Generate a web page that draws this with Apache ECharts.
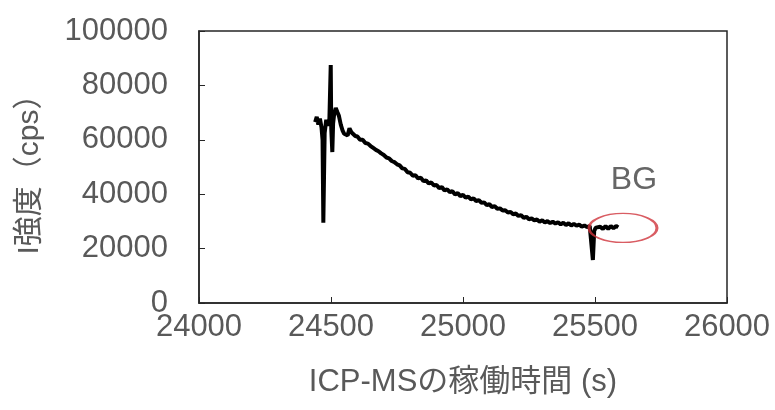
<!DOCTYPE html>
<html>
<head>
<meta charset="utf-8">
<script src="https://cdn.jsdelivr.net/npm/echarts@6/dist/echarts.min.js"></script>
<style>
  html, body { margin: 0; padding: 0; background: #fff; }
  #chart { width: 775px; height: 410px; }
</style>
</head>
<body>
<div id="chart"></div>
<script>
// 稼働時間 (s) と 強度 (cps)
const timeSec = [
  24440, 24446, 24452, 24458, 24464, 24468, 24471, 24476, 24482, 24488, 24494, 24499, 24501, 24505, 24508, 24512,
  24518, 24524, 24530, 24537, 24544, 24550, 24557, 24563, 24570, 24577, 24584, 24592, 24600, 24610, 24620, 24630,
  24640, 24650, 24660, 24670, 24680, 24690, 24700, 24710, 24720, 24730, 24740, 24750, 24760, 24770, 24780, 24790,
  24800, 24810, 24820, 24830, 24840, 24850, 24860, 24870, 24880, 24890, 24900, 24910, 24920, 24930, 24940, 24950,
  24960, 24970, 24980, 24990, 25000, 25010, 25020, 25030, 25040, 25050, 25060, 25070, 25080, 25090, 25100, 25110,
  25120, 25130, 25140, 25150, 25160, 25170, 25180, 25190, 25200, 25210, 25220, 25230, 25240, 25250, 25260, 25270,
  25280, 25290, 25300, 25310, 25320, 25330, 25340, 25350, 25360, 25370, 25380, 25390, 25400, 25410, 25420, 25430,
  25440, 25450, 25460, 25470, 25480, 25487, 25492, 25497, 25503, 25510, 25520, 25530, 25540, 25550, 25560, 25570,
  25580, 25588
];
const intensity = [
  66500, 68400, 65600, 67800, 64600, 60000, 29500, 62500, 67400, 65200, 67800, 87500, 64000, 55500, 66000, 69500,
  71700, 70200, 68800, 65600, 63400, 62200, 62000, 61600, 64200, 62800, 62200, 61400, 61200, 60000, 60000, 58800,
  58600, 57700, 57000, 56300, 55800, 55000, 54400, 53500, 53200, 52200, 51800, 51000, 50600, 49500, 49300, 48100,
  47900, 46800, 47000, 45800, 46100, 44800, 45100, 44000, 44300, 43200, 43400, 42200, 42600, 41400, 41800, 40800,
  41100, 39900, 40400, 39300, 39800, 38700, 39100, 38100, 38500, 37500, 37800, 36800, 37000, 36000, 36300, 35300,
  35600, 34600, 34800, 34000, 34100, 33300, 33500, 32600, 32900, 32000, 32300, 31300, 31700, 30800, 31100, 30400,
  30700, 29900, 30400, 29600, 30100, 29400, 29900, 29200, 29700, 28900, 29500, 28700, 29300, 28500, 29100, 28400,
  28800, 28100, 28500, 27900, 28300, 27700, 15800, 26500, 27700, 27000, 28000, 27200, 28300, 27300, 28300, 27500,
  28300, 27800
];

// BG 注記（楕円の中心）
const bgLabel = 'BG';
const bgPoint = [25606, 27600];

const xMin = 24000, xMax = 26000, xStep = 500;
const yMin = 0, yMax = 100000, yStep = 20000;

const lineData = timeSec.map((t, i) => [t, intensity[i]]);

const textColor = '#595959';
const fontName = 'Liberation Sans, Noto Sans CJK JP, sans-serif';

const chart = echarts.init(document.getElementById('chart'));
chart.setOption({
  animation: false,
  grid: {
    left: 199,
    right: 48,
    top: 31,
    bottom: 107,
    show: true,
    borderColor: '#262626',
    borderWidth: 1.5,
  },
  xAxis: {
    type: 'value',
    min: xMin,
    max: xMax,
    interval: xStep,
    name: 'ICP-MSの稼働時間 (s)',
    nameLocation: 'middle',
    nameGap: 64,
    nameTextStyle: { color: textColor, fontSize: 31, fontFamily: fontName },
    axisLine: { show: true, lineStyle: { color: '#262626', width: 1.5 } },
    axisTick: { show: true, inside: true, length: 6, lineStyle: { color: '#262626' } },
    axisLabel: { color: textColor, fontSize: 31, fontFamily: fontName, margin: 9, formatter: (v) => String(v) },
    splitLine: { show: false },
  },
  yAxis: {
    type: 'value',
    min: yMin,
    max: yMax,
    interval: yStep,
    name: 'I強度（cps）',
    nameLocation: 'middle',
    nameGap: 154,
    nameRotate: 90,
    nameTextStyle: { color: textColor, fontSize: 30, fontFamily: fontName },
    axisLine: { show: true, lineStyle: { color: '#262626', width: 1.5 } },
    axisTick: { show: true, inside: true, length: 6, lineStyle: { color: '#262626' } },
    axisLabel: { color: textColor, fontSize: 31, fontFamily: fontName, margin: 31, formatter: (v) => String(v) },
    splitLine: { show: false },
  },
  series: [
    {
      type: 'line',
      data: lineData,
      showSymbol: false,
      lineStyle: { color: '#000', width: 4 },
      z: 3,
    },
    {
      type: 'scatter',
      data: [bgPoint],
      symbol: 'circle',
      symbolSize: [68, 29],
      itemStyle: { color: 'rgba(0,0,0,0)', borderColor: '#d0343c', borderWidth: 2 },
      label: {
        show: true,
        formatter: bgLabel,
        position: 'top',
        offset: [11, -12],
        color: '#404040',
        fontSize: 32,
        fontFamily: fontName,
      },
      z: 4,
    },
  ],
});
</script>
</body>
</html>
